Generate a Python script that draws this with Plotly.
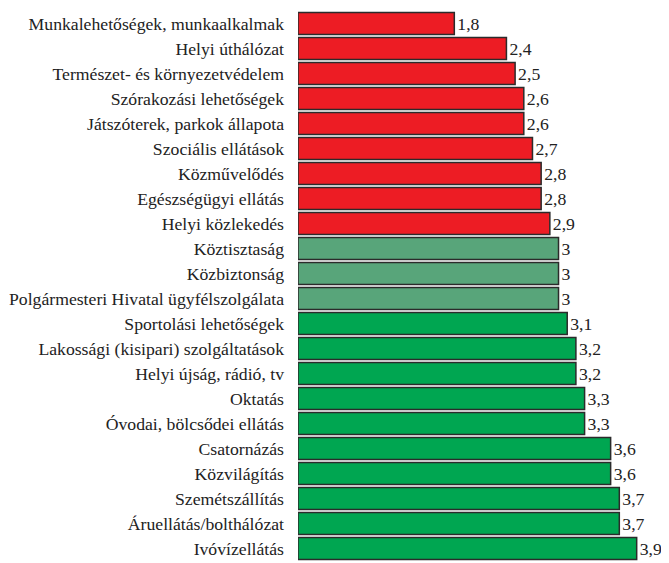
import plotly.graph_objects as go

categories = [
    "Munkalehetőségek, munkaalkalmak",
    "Helyi úthálózat",
    "Természet- és környezetvédelem",
    "Szórakozási lehetőségek",
    "Játszóterek, parkok állapota",
    "Szociális ellátások",
    "Közművelődés",
    "Egészségügyi ellátás",
    "Helyi közlekedés",
    "Köztisztaság",
    "Közbiztonság",
    "Polgármesteri Hivatal ügyfélszolgálata",
    "Sportolási lehetőségek",
    "Lakossági (kisipari) szolgáltatások",
    "Helyi újság, rádió, tv",
    "Oktatás",
    "Óvodai, bölcsődei ellátás",
    "Csatornázás",
    "Közvilágítás",
    "Szemétszállítás",
    "Áruellátás/bolthálózat",
    "Ivóvízellátás",
]
values = [1.8, 2.4, 2.5, 2.6, 2.6, 2.7, 2.8, 2.8, 2.9, 3, 3, 3, 3.1, 3.2, 3.2, 3.3, 3.3, 3.6, 3.6, 3.7, 3.7, 3.9]

RED = "#ED1C24"
SAGE = "#58A57A"
GREEN = "#00A651"

def color_for(v):
    if v < 3:
        return RED
    if v == 3:
        return SAGE
    return GREEN

colors = [color_for(v) for v in values]
labels = [f"{v:g}".replace(".", ",") for v in values]

FONT = "Liberation Serif, Times New Roman, serif"
FS = 17.7

fig = go.Figure(go.Bar(
    x=values,
    y=categories,
    orientation="h",
    marker=dict(color=colors, line=dict(color="#2b2b2b", width=1.5)),
    text=labels,
    textposition="outside",
    textfont=dict(family=FONT, size=FS, color="#222"),
    cliponaxis=False,
    width=0.88,
))

fig.update_layout(
    width=661, height=555,
    margin=dict(l=290, r=0, t=3, b=2, autoexpand=False),
    plot_bgcolor="white", paper_bgcolor="white",
    font=dict(family=FONT, size=FS, color="#222"),
    showlegend=False,
)
fig.update_xaxes(range=[0, 4.272], visible=False, automargin=False)
fig.update_yaxes(
    autorange="reversed", automargin=False,
    showgrid=False, zeroline=False, showline=False,
    ticks="", ticklabelstandoff=13,
    tickfont=dict(family=FONT, size=FS, color="#222"),
)

fig.write_html("out.html")
